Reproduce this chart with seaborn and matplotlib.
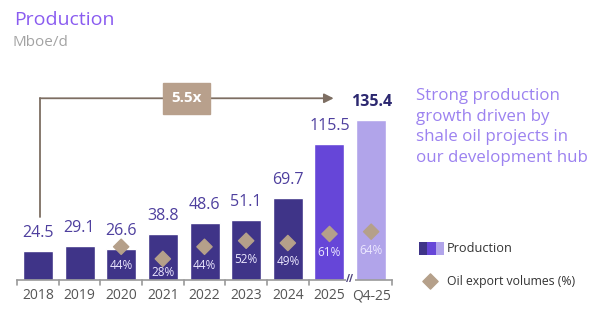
import numpy as np
import pandas as pd
import matplotlib
matplotlib.use("Agg")
import matplotlib.pyplot as plt
from matplotlib.patches import Rectangle
import seaborn as sns

# ---- data ----
categories = ["2018", "2019", "2020", "2021", "2022", "2023", "2024", "2025", "Q4-25"]
production = [24.5, 29.1, 26.6, 38.8, 48.6, 51.1, 69.7, 115.5, 135.4]
export_pct = [np.nan, np.nan, 44, 28, 44, 52, 49, 61, 64]
bar_colors = ["#3f3488"] * 7 + ["#6646d8", "#b1a4ea"]
growth_label = "5.5x"
side_text = "Strong production\ngrowth driven by\nshale oil projects in\nour development hub"

sns.set_theme(style="white")
plt.rcParams["font.family"] = ["Open Sans", "DejaVu Sans"]

W, H = 600, 325
fig = plt.figure(figsize=(6, 3.25), dpi=100)
# axes: x from px 17 to 392, baseline at px 280, top at px 80
ax = fig.add_axes([17 / W, (H - 280) / H, 375 / W, 200 / H])

df = pd.DataFrame({"cat": categories, "prod": production, "pct": export_pct})
sns.barplot(data=df, x="cat", y="prod", hue="cat", palette=bar_colors,
            legend=False, width=0.72, saturation=1, ax=ax)
ax.set_xlim(-0.5, 8.5)
ax.set_ylim(0, 200 / 1.18)
ax.set_xlabel("")
ax.set_ylabel("")
ax.set_yticks([])
for s in ["top", "right", "left"]:
    ax.spines[s].set_visible(False)
ax.spines["bottom"].set_color("#9a9a9a")
ax.spines["bottom"].set_linewidth(1.2)
ax.tick_params(axis="x", length=0, pad=6, labelsize=10, labelcolor="#555555")

# boundary ticks
for b in np.arange(-0.5, 8.6, 1.0):
    if abs(b - 7.5) < 1e-6:
        continue
    ax.plot([b, b], [0, -4.5], color="#9a9a9a", lw=1.2, clip_on=False)
# axis break mark
ax.text(7.5, 0, "//", ha="center", va="center", fontsize=7, color="#4a3f7a",
        fontweight="bold", zorder=6,
        bbox=dict(boxstyle="square,pad=0.05", fc="white", ec="none"))

# value labels
for i, v in enumerate(production):
    last = i == len(production) - 1
    ax.annotate(f"{v:.1f}", (i, v), xytext=(0, 13), textcoords="offset points",
                ha="center", va="center", fontsize=11.5,
                color="#2c2870" if last else "#4e3f9e",
                fontweight="bold" if last else "normal")

# percentage diamonds on twin axis
ax2 = ax.twinx()
ax2.set_ylim(0, 200 / 0.755)
ax2.set_yticks([])
for s in ["top", "right", "left", "bottom"]:
    ax2.spines[s].set_visible(False)
xs = np.arange(len(categories))
edge = ["#b5a08a"] * 8 + ["#7b5fd2"]
sns.scatterplot(x=xs, y=export_pct, marker="D", s=60, color="#b5a08a",
                edgecolor=edge, linewidth=1.0, ax=ax2, legend=False, zorder=5)
for i, p in enumerate(export_pct):
    if np.isnan(p):
        continue
    ylab = max(p - 25, 10)
    ax2.text(i, ylab, f"{int(p)}%", ha="center", va="center", fontsize=8.5,
             color="#ece8ff")

# growth arrow
y_top = 154
ax.plot([0.05, 0.05], [production[0] + 29, y_top], color="#7d6e62", lw=1.3, clip_on=False)
ax.annotate("", xy=(7.1, y_top), xytext=(0.05, y_top),
            arrowprops=dict(arrowstyle="-|>", color="#7d6e62", lw=1.3,
                            mutation_scale=14, shrinkA=0, shrinkB=0),
            annotation_clip=False)
ax.text(3.57, y_top, growth_label, ha="center", va="center", fontsize=11,
        fontweight="bold", color="white",
        bbox=dict(boxstyle="square,pad=0.55", fc="#b8a08c", ec="#b8a08c"))

# titles
fig.text(14 / W, 1 - 20 / H, "Production", fontsize=14, color="#8a5cf0",
         ha="left", va="center")
fig.text(13 / W, 1 - 43 / H, "Mboe/d", fontsize=11, color="#a3a3a3",
         ha="left", va="center")

# side text
fig.text(416 / W, 1 - 127 / H, side_text, fontsize=12.2, color="#9c82f0",
         ha="left", va="center", linespacing=1.38)

# legend
lx, ly, lw_, lh = 419, 242, 25, 13
for k, c in enumerate(["#3f3488", "#6646d8", "#b1a4ea"]):
    fig.patches.append(Rectangle(((lx + k * lw_ / 3) / W, 1 - (ly + lh) / H),
                                 (lw_ / 3) / W, lh / H, transform=fig.transFigure,
                                 fc=c, ec="none"))
fig.text(447 / W, 1 - 249 / H, "Production", fontsize=9.2, color="#333333",
         ha="left", va="center")
leg_ax = fig.add_axes([0, 0, 1, 1], facecolor="none")
leg_ax.set_xlim(0, W)
leg_ax.set_ylim(H, 0)
leg_ax.axis("off")
leg_ax.scatter([430], [281], marker="D", s=60, color="#b5a08a")
fig.text(447 / W, 1 - 281 / H, "Oil export volumes (%)", fontsize=8.8,
         color="#333333", ha="left", va="center")

fig.savefig("out.png", dpi=100)
